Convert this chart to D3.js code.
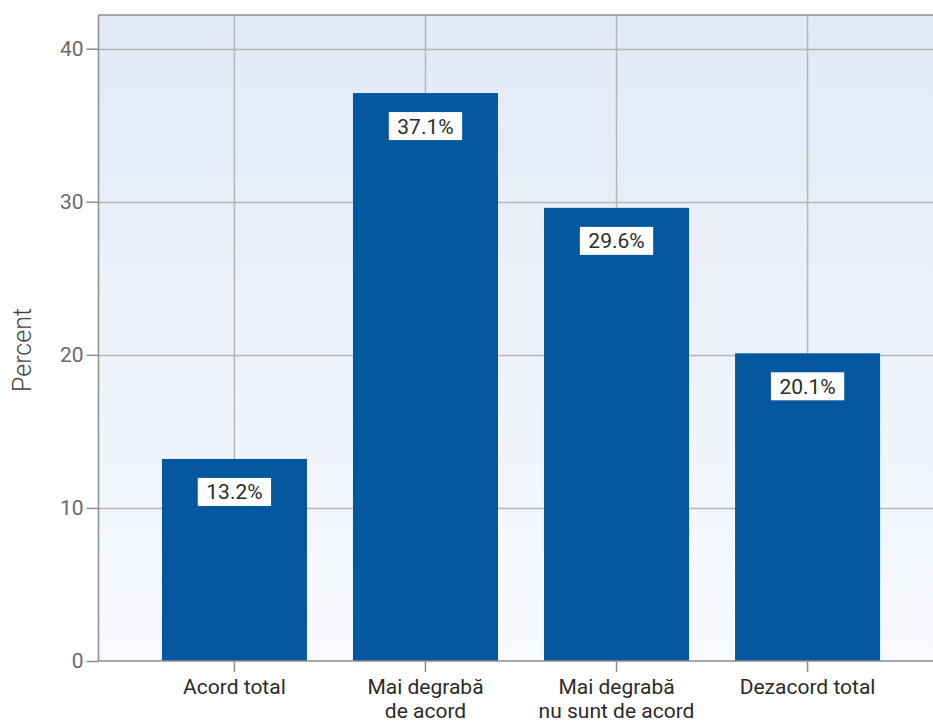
<!DOCTYPE html>
<html>
<head>
<meta charset="utf-8">
<script src="https://cdn.jsdelivr.net/npm/d3@7/dist/d3.min.js"></script>
<style>
  html, body { margin: 0; padding: 0; background: #fff; }
  svg { display: block; font-family: Roboto, "Noto Sans", sans-serif; }
</style>
</head>
<body>
<svg id="chart" width="933" height="725"></svg>
<script>
// Survey answers and their shares
const categories = [
  ["Acord total"],
  ["Mai degrabă", "de acord"],
  ["Mai degrabă", "nu sunt de acord"],
  ["Dezacord total"]
];
const percents = [13.2, 37.1, 29.6, 20.1];
const yTicks = [0, 10, 20, 30, 40];

const svg = d3.select("#chart");
const plotLeft = 98.5, plotRight = 943.5, plotTop = 15, plotBottom = 661;

const x = d3.scaleBand()
  .domain(d3.range(categories.length))
  .range([plotLeft, plotRight])
  .paddingInner(0.241)
  .paddingOuter(0.332);

const y = d3.scaleLinear().domain([0, 42.2]).range([plotBottom, plotTop]);

// Plot background: soft blue fading downwards
const defs = svg.append("defs");
const grad = defs.append("linearGradient")
  .attr("id", "bg").attr("x1", 0).attr("y1", 0).attr("x2", 0).attr("y2", 1);
grad.append("stop").attr("offset", "0%").attr("stop-color", "#e2e9f6");
grad.append("stop").attr("offset", "100%").attr("stop-color", "#f8fafe");

svg.append("rect")
  .attr("x", plotLeft).attr("y", plotTop)
  .attr("width", plotRight - plotLeft).attr("height", plotBottom - plotTop)
  .attr("fill", "url(#bg)");

// Grid lines
svg.append("g")
  .selectAll("line")
  .data(yTicks.filter(d => d > 0))
  .join("line")
  .attr("x1", plotLeft).attr("x2", plotRight)
  .attr("y1", d => Math.round(y(d)) + 0.5).attr("y2", d => Math.round(y(d)) + 0.5)
  .attr("stroke", "#b4b6ba").attr("stroke-width", 1.5);

svg.append("g")
  .selectAll("line")
  .data(d3.range(categories.length))
  .join("line")
  .attr("x1", i => x(i) + x.bandwidth() / 2).attr("x2", i => x(i) + x.bandwidth() / 2)
  .attr("y1", plotTop).attr("y2", plotBottom)
  .attr("stroke", "#b4b6ba").attr("stroke-width", 1.5);

// Top frame line
svg.append("line")
  .attr("x1", plotLeft).attr("x2", plotRight).attr("y1", plotTop).attr("y2", plotTop)
  .attr("stroke", "#8e8e8e").attr("stroke-width", 1.5);

// Bars
svg.append("g")
  .selectAll("rect")
  .data(percents)
  .join("rect")
  .attr("x", (d, i) => x(i))
  .attr("y", d => y(d))
  .attr("width", x.bandwidth())
  .attr("height", d => y(0) - y(d))
  .attr("fill", "#02579e");

// Value labels in white boxes
const labels = svg.append("g")
  .selectAll("g")
  .data(percents)
  .join("g")
  .attr("transform", (d, i) => `translate(${x(i) + x.bandwidth() / 2},${y(d) + 33})`);

labels.append("rect").attr("fill", "#ffffff");
labels.append("text")
  .attr("text-anchor", "middle")
  .attr("dy", "0.36em")
  .attr("font-size", 21)
  .attr("fill", "#2b2b2b")
  .text(d => d.toFixed(1) + "%");
labels.each(function () {
  const t = d3.select(this).select("text").node().getBBox();
  d3.select(this).select("rect")
    .attr("x", -t.width / 2 - 8.5).attr("y", -14)
    .attr("width", t.width + 17).attr("height", 28);
});

// Y axis
const yAxis = svg.append("g")
  .attr("transform", `translate(${plotLeft},0)`)
  .call(d3.axisLeft(y).tickValues(yTicks).tickSize(12).tickPadding(3));
yAxis.select(".domain").attr("stroke", "#8e8e8e").attr("stroke-width", 1.5)
  .attr("d", `M0,${plotTop}V${plotBottom}`);
yAxis.selectAll(".tick line").attr("stroke", "#8e8e8e").attr("stroke-width", 1.5);
yAxis.selectAll(".tick text")
  .attr("font-size", 21).attr("fill", "#6a6a6a")
  .attr("font-family", "Roboto, sans-serif");

// X axis
const xAxis = svg.append("g")
  .attr("transform", `translate(0,${plotBottom})`)
  .call(d3.axisBottom(x).tickSize(11).tickFormat(""));
xAxis.select(".domain").attr("stroke", "#8e8e8e").attr("stroke-width", 1.5)
  .attr("d", `M${plotLeft},0H${plotRight}`);
xAxis.selectAll(".tick line").attr("stroke", "#8e8e8e").attr("stroke-width", 1.5);

xAxis.selectAll(".tick").each(function (i) {
  const t = d3.select(this).append("text")
    .attr("text-anchor", "middle")
    .attr("font-size", 21)
    .attr("fill", "#2b2b2b")
    .attr("font-family", "Roboto, sans-serif");
  categories[i].forEach((line, k) => {
    t.append("tspan").attr("x", 0).attr("y", 33 + k * 24).text(line);
  });
});

// Y axis title
svg.append("text")
  .attr("transform", "translate(31,350) rotate(-90)")
  .attr("text-anchor", "middle")
  .attr("font-size", 25)
  .attr("font-weight", 300)
  .attr("fill", "#444444")
  .text("Percent");
</script>
</body>
</html>
